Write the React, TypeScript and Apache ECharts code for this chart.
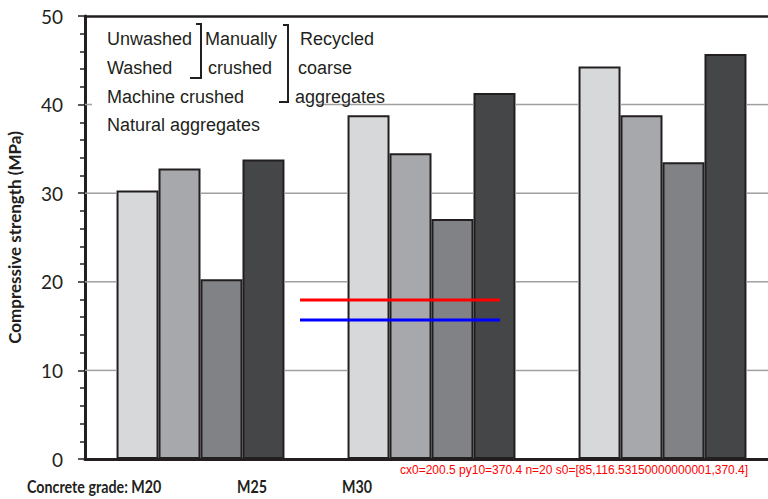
import React, { useEffect, useRef } from "react";
import * as echarts from "echarts";

const categories = ["M20", "M25", "M30"];
const seriesNames = ["Unwashed", "Washed", "Machine crushed", "Natural aggregates"];
const unwashed = [30.3, 38.8, 44.3];
const washed = [32.8, 34.5, 38.8];
const machineCrushed = [20.3, 27.1, 33.5];
const naturalAgg = [33.8, 41.3, 45.7];
const gridValues = [10, 20, 30, 40];
const xLabels = ["Concrete grade: M20", "M25", "M30"];
const yTitle = "Compressive strength (MPa)";
const legendCol1 = ["Unwashed", "Washed", "Machine crushed", "Natural aggregates"];
const legendCol2 = ["Manually", "crushed"];
const legendCol3 = ["Recycled", "coarse", "aggregates"];

const barColors = ["#d7d8da", "#a7a8ab", "#818285", "#454648"];
const ink = "#231f20";
const gapRatio = 0.273;

export default function App() {
  const ref = useRef<HTMLDivElement>(null);
  useEffect(() => {
    if (!ref.current) return;
    const chart = echarts.init(ref.current, undefined, { renderer: "svg" });
    const values = [unwashed, washed, machineCrushed, naturalAgg];
    const txt = (text: string, x: number, y: number, extra: any = {}, scaleX = 1) => ({
      type: "text",
      z: 101,
      x,
      y,
      scaleX,
      style: {
        text,
        x: 0,
        y: 0,
        fill: ink,
        fontFamily: "Liberation Sans, Arial, sans-serif",
        fontSize: 18,
        align: "left",
        verticalAlign: "middle",
        textAlign: "left",
        textVerticalAlign: "middle",
        ...extra,
      },
    });
    const xLabelX = [27, 237, 342];
    const legendRows = [39, 68, 97, 125];
    chart.setOption({
      animation: false,
      grid: { left: 85, right: -10, top: 16, bottom: 40, containLabel: false, outerBoundsMode: "none" },
      xAxis: [
        {
          type: "category",
          data: categories,
          axisLine: { show: true, lineStyle: { color: ink, width: 3 } },
          axisTick: { show: false },
          axisLabel: { show: false },
          splitLine: { show: false },
          z: 5,
        },
        {
          type: "category",
          position: "top",
          data: categories,
          axisLine: { show: true, lineStyle: { color: ink, width: 2.5 } },
          axisTick: { show: false },
          axisLabel: { show: false },
          splitLine: { show: false },
          z: 5,
        },
      ],
      yAxis: {
        type: "value",
        min: 0,
        max: 50,
        interval: 10,
        name: yTitle,
        nameLocation: "middle",
        nameRotate: 90,
        nameGap: 62,
        nameTextStyle: {
          color: ink,
          fontFamily: "Lato, sans-serif",
          fontWeight: "bold",
          fontSize: 17,
        },
        axisLine: { show: true, lineStyle: { color: ink, width: 3 } },
        axisTick: { show: true, length: 7, lineStyle: { color: ink, width: 1.5 } },
        minorTick: { show: true, splitNumber: 5, length: 5, lineStyle: { color: ink, width: 1.5 } },
        axisLabel: {
          color: ink,
          fontFamily: "Lato, sans-serif",
          fontSize: 19,
          margin: 22,
        },
        splitLine: { show: false },
        z: 5,
      },
      series: seriesNames.map((name, i) => ({
        name,
        type: "bar",
        data: values[i],
        barGap: "0%",
        barCategoryGap: gapRatio * 100 + "%",
        itemStyle: { color: barColors[i], borderColor: ink, borderWidth: 2 },
        z: 2,
      })),
    });

    const cxRaw = chart.convertToPixel({ xAxisIndex: 0 }, categories[0]);
    const cx = (c: number) => chart.convertToPixel({ xAxisIndex: 0 }, categories[c]) as number;
    const py = (v: number) => chart.convertToPixel({ yAxisIndex: 0 }, v) as number;
    const band = cx(1) - cx(0);
    const groupW = band * (1 - gapRatio);
    const barW = groupW / seriesNames.length;
    const xStart = cx(0) - band / 2;
    const xEnd = cx(categories.length - 1) + band / 2;
    const gridLines: any[] = [];
    gridValues.forEach((v) => {
      const blocked: [number, number][] = [];
      categories.forEach((_, c) => {
        values.forEach((vals, i) => {
          if (vals[c] >= v) {
            const l = cx(c) - groupW / 2 + i * barW;
            blocked.push([l, l + barW]);
          }
        });
      });
      blocked.sort((a, b) => a[0] - b[0]);
      let cur = xStart;
      const y = py(v);
      blocked.forEach(([l, r]) => {
        if (l > cur) gridLines.push([cur, l]);
        cur = Math.max(cur, r);
      });
      if (cur < xEnd) gridLines.push([cur, xEnd]);
      gridLines.forEach((seg) => {
        if (seg.length === 2) seg.push(y);
      });
    });

    const debug =
      "cx0=" + JSON.stringify(cxRaw) + " py10=" + JSON.stringify(py(10)) + " n=" + gridLines.length +
      " s0=" + JSON.stringify(gridLines[0]);

    chart.setOption({
      graphic: [
        ...gridLines.map(([x1, x2, y]) => ({
          type: "line",
          z: 99,
          silent: true,
          shape: { x1, y1: y, x2, y2: y },
          style: { stroke: "#a0a0a2", lineWidth: 1.5 },
        })),
        { type: "line", z: 200, shape: { x1: 300, y1: 300, x2: 500, y2: 300 }, style: { stroke: "red", lineWidth: 3 } },
        { type: "polyline", z: 200, shape: { points: [[300, 320], [500, 320]] }, style: { stroke: "blue", lineWidth: 3, fill: "none" } },
        { type: "rect", z: 100, shape: { x: 92, y: 18, width: 224, height: 122 }, style: { fill: "#ffffff" } },
        ...legendCol1.map((t, i) => txt(t, 107, legendRows[i])),
        ...legendCol2.map((t, i) => txt(t, i === 0 ? 205 : 208, legendRows[i])),
        ...legendCol3.map((t, i) => txt(t, i === 0 ? 300 : i === 1 ? 298 : 295, legendRows[i])),
        {
          type: "polyline",
          z: 101,
          shape: { points: [[196, 24], [201, 24], [201, 78], [190, 78]] },
          style: { stroke: ink, lineWidth: 2, fill: "none" },
        },
        {
          type: "polyline",
          z: 101,
          shape: { points: [[283, 25], [288, 25], [288, 102], [279, 102]] },
          style: { stroke: ink, lineWidth: 2, fill: "none" },
        },
        ...xLabels.map((t, i) =>
          txt(t, xLabelX[i], 487, { fontFamily: "Lato, sans-serif", fontWeight: "bold", fontSize: 17 }, 0.84)
        ),
        txt(debug, 400, 470, { fontSize: 12, fill: "red" }),
      ],
    });
    return () => chart.dispose();
  }, []);
  return (
    <div
      ref={ref}
      style={{ position: "fixed", left: 0, top: 0, width: 768, height: 499, background: "#fff" }}
    />
  );
}
